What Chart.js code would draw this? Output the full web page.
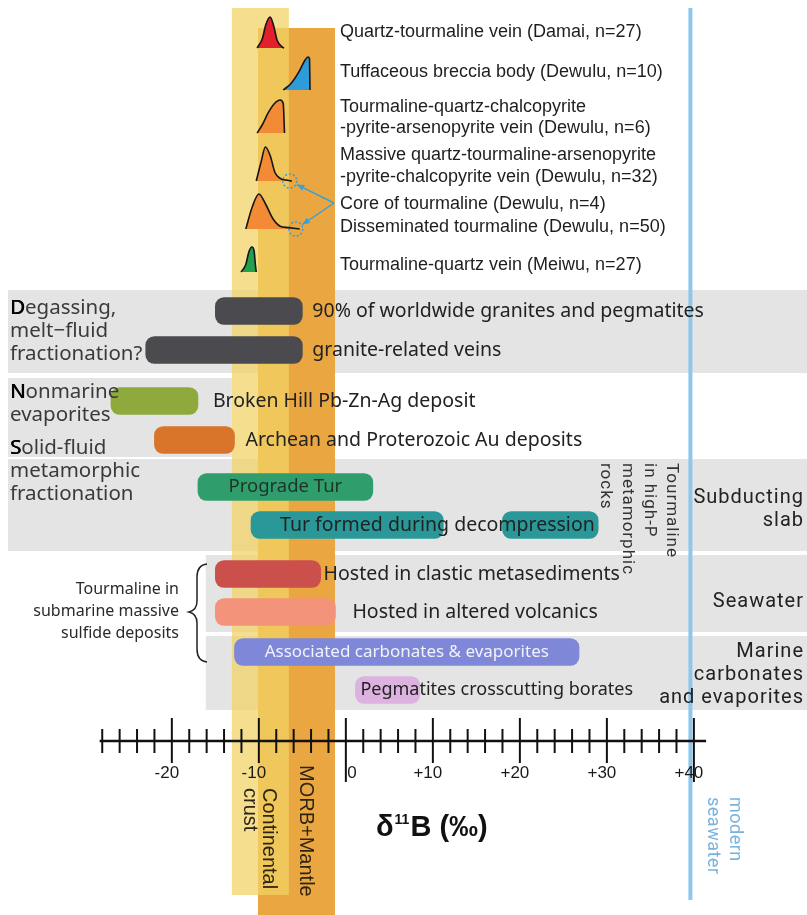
<!DOCTYPE html>
<html>
<head>
<meta charset="utf-8">
<script src="https://cdn.jsdelivr.net/npm/chart.js@4.4.1/dist/chart.umd.min.js"></script>
<style>
  html, body { margin: 0; padding: 0; background: #fff; }
  #wrap { width: 807px; height: 915px; }
</style>
</head>
<body>
<div id="wrap"><canvas id="c" width="807" height="915"></canvas></div>
<script>
// ---- δ11B envelopes of the studied tourmaline (δ11B ‰, relative frequency) ----
const damaiVeinD   = [-10.2, -9.6, -9.2, -8.7, -8.3, -7.9, -7.3, -7.1];
const damaiVeinF   = [0, 0.3, 0.75, 1, 0.72, 0.25, 0.03, 0];
const brecciaD     = [-7.2, -6.3, -5.4, -4.7, -4.35, -4.18, -4.12];
const brecciaF     = [0, 0.2, 0.55, 0.9, 1, 0.95, 0];
const cpyVeinD     = [-10.2, -9.6, -8.95, -8.25, -7.55, -7.2, -7.05];
const cpyVeinF     = [0, 0.25, 0.6, 0.88, 1, 0.9, 0];
const massiveD     = [-10.3, -9.75, -9.25, -8.7, -8.15, -7.55, -6.9, -6.2];
const massiveF     = [0, 0.55, 1, 0.75, 0.25, 0.08, 0.03, 0];
const dissemD      = [-11.5, -10.8, -10.0, -9.2, -8.4, -7.55, -6.65, -5.3];
const dissemF      = [0, 0.6, 1, 0.7, 0.3, 0.08, 0.04, 0];
const meiwuVeinD   = [-12.05, -11.5, -11.15, -10.8, -10.55, -10.4, -10.3];
const meiwuVeinF   = [0, 0.3, 0.8, 1, 0.85, 0.3, 0];
const coreTailD    = -6.45;   // tourmaline cores (n=4) in the massive-vein tail
const dissTailD    = -5.75;   // tourmaline cores in the disseminated tail

const sampleLabels = [
  ['Quartz-tourmaline vein (Damai, n=27)'],
  ['Tuffaceous breccia body (Dewulu, n=10)'],
  ['Tourmaline-quartz-chalcopyrite', '-pyrite-arsenopyrite vein (Dewulu, n=6)'],
  ['Massive quartz-tourmaline-arsenopyrite', '-pyrite-chalcopyrite vein (Dewulu, n=32)'],
  ['Core of tourmaline (Dewulu, n=4)'],
  ['Disseminated tourmaline (Dewulu, n=50)'],
  ['Tourmaline-quartz vein (Meiwu, n=27)']
];

// ---- literature δ11B ranges (‰) ----
const rangeNames = [
  '90% of worldwide granites and pegmatites',
  'granite-related veins',
  'Broken Hill Pb-Zn-Ag deposit',
  'Archean and Proterozoic Au deposits',
  'Prograde Tur',
  'Tur formed during decompression',
  'Hosted in clastic metasediments',
  'Hosted in altered volcanics',
  'Associated carbonates & evaporites',
  'Pegmatites crosscutting borates'
];
const rangeLow  = [-15, -23, -27, -22, -17, -10.9, -15, -15, -12.8, 1.1];
const rangeHigh = [-5, -5, -17, -12.8, 3.1, 11.2, -2.9, -1.2, 26.8, 8.5];
const decompressionHigh = [18, 29];   // second population, same row

// ---- reservoirs ----
const crustRange = [-13.1, -6.55];
const morbRange  = [-10.1, -1.25];
const seawaterD  = 39.6;

// ---- axis ----
const majorTicks = [-20, -10, 0, 10, 20, 30, 40];
const tickLabels = ['-20', '-10', '0', '+10', '+20', '+30', '+40'];
const tickFrom = -28, tickTo = 40, tickStep = 2;

// ---------------- layout ----------------
const X_MIN = -39.75, X_MAX = 53.0;           // visible δ11B window
const H = 915;
const curveBase = [48, 90, 133, 181, 229, 272];
const curvePeak = [31, 33, 33, 34, 35, 25];
const curveColor = ['#E2202B', '#2E9BDA', '#F28A36', '#F28A36', '#F28A36', '#22A04C'];
const labelRows = [[32], [72], [107, 128], [155, 177], [204], [227], [265]];
const rowY = [311, 350, 401, 440, 487, 525, 574, 612, 652, 690];
const barColor = ['#4A4A4F', '#4A4A4F', '#8FAA3C', '#D8752B', '#2F9E6C', '#2A9898',
                  '#CB4F4B', '#F3937A', '#7E87D8', '#DDB2E0'];
const barFont = '19.5px "Noto Sans"';
// label placement: [mode, offset, font, colour]
const barLabelPos = [
  ['after', 10], ['after', 10], ['after', 15], ['after', 11],
  ['center', 0, '18.5px "Noto Sans"', '#1f3329'],
  ['start', 29],
  ['after', 3], ['after', 17],
  ['center', 0, '17px "Noto Sans"', '#F2F2FA'],
  ['start', 5, '18px "Noto Sans"']
];
const greyBands = [
  [-38.83, X_MAX, 290, 373],
  [-38.83, -13.1, 378, 457],
  [-38.83, X_MAX, 459, 551],
  [-16.1, X_MAX, 555, 632],
  [-16.1, X_MAX, 636, 710]
];

const curveSets = [
  [damaiVeinD, damaiVeinF], [brecciaD, brecciaF], [cpyVeinD, cpyVeinF],
  [massiveD, massiveF], [dissemD, dissemF], [meiwuVeinD, meiwuVeinF]
];

const datasets = curveSets.map(([d, f], i) => ({
  type: 'line',
  data: d.map((v, k) => ({ x: v, y: curveBase[i] - f[k] * curvePeak[i] })),
  borderColor: '#161616',
  borderWidth: 1.6,
  backgroundColor: curveColor[i],
  fill: { value: curveBase[i] },
  pointRadius: 0,
  cubicInterpolationMode: 'monotone'
}));

const barData = rangeLow.map((lo, i) => ({ x: [lo, rangeHigh[i]], y: rowY[i] }));
barData.push({ x: decompressionHigh, y: rowY[5] });
datasets.push({
  type: 'bar',
  indexAxis: 'y',
  data: barData,
  backgroundColor: barColor.concat([barColor[5]]),
  barThickness: 27,
  borderRadius: 9,
  borderSkipped: false,
  grouped: false
});

function txt(ctx, s, x, y, o = {}) {
  ctx.save();
  ctx.font = o.font || barFont;
  ctx.fillStyle = o.color || '#222';
  ctx.textAlign = o.align || 'left';
  ctx.textBaseline = 'middle';
  if (o.ls) ctx.letterSpacing = o.ls + 'px';
  if (o.rot) {
    ctx.translate(x, y);
    ctx.rotate(o.rot);
    ctx.fillText(s, 0, 0);
  } else {
    ctx.fillText(s, x, y);
  }
  ctx.restore();
}

// heading whose first letter is set darker
function heading(ctx, s, x, y, font) {
  ctx.save();
  ctx.font = font;
  ctx.textBaseline = 'middle';
  ctx.fillStyle = '#3a3a3a';
  ctx.fillText(s, x, y);
  ctx.fillStyle = '#000';
  ctx.fillText(s[0], x, y);
  ctx.fillText(s[0], x + 0.6, y);
  ctx.restore();
}

const backdrop = {
  id: 'backdrop',
  beforeDatasetsDraw(chart) {
    const { ctx, scales: { x, y } } = chart;
    ctx.save();
    ctx.fillStyle = '#E4E4E4';
    greyBands.forEach(([a, b, t, u]) => {
      const px = x.getPixelForValue(a), qx = x.getPixelForValue(b);
      ctx.fillRect(px, y.getPixelForValue(t), qx - px, y.getPixelForValue(u) - y.getPixelForValue(t));
    });
    // MORB + mantle
    let l = x.getPixelForValue(morbRange[0]), r = x.getPixelForValue(morbRange[1]);
    ctx.fillStyle = '#EAA640';
    ctx.fillRect(l, y.getPixelForValue(28), r - l, y.getPixelForValue(H) - y.getPixelForValue(28));
    // continental crust
    l = x.getPixelForValue(crustRange[0]); r = x.getPixelForValue(crustRange[1]);
    ctx.fillStyle = 'rgba(241,211,101,0.73)';
    ctx.fillRect(l, y.getPixelForValue(8), r - l, y.getPixelForValue(895) - y.getPixelForValue(8));
    // modern seawater
    const sx = x.getPixelForValue(seawaterD);
    ctx.strokeStyle = '#8DC7EE';
    ctx.lineWidth = 4;
    ctx.beginPath();
    ctx.moveTo(sx, y.getPixelForValue(8));
    ctx.lineTo(sx, y.getPixelForValue(900));
    ctx.stroke();
    ctx.restore();
  }
};

const overlay = {
  id: 'overlay',
  afterDatasetsDraw(chart) {
    const { ctx, scales: { x, y } } = chart;
    const X = v => x.getPixelForValue(v);
    const Y = v => y.getPixelForValue(v);

    // sample labels
    sampleLabels.forEach((lines, i) => {
      lines.forEach((s, k) => txt(ctx, s, 340, Y(labelRows[i][k]), { font: '18px "Liberation Sans"', color: '#1e1e1e' }));
    });

    // circled tails and arrows
    const circles = [[X(coreTailD), Y(curveBase[3])], [X(dissTailD), Y(curveBase[4])]];
    ctx.save();
    ctx.strokeStyle = '#3AA0D6';
    ctx.lineWidth = 1.5;
    circles.forEach(([cx, cy]) => {
      ctx.setLineDash([2, 2]);
      ctx.beginPath();
      ctx.arc(cx, cy, 7, 0, Math.PI * 2);
      ctx.stroke();
    });
    ctx.setLineDash([]);
    const start = [334, Y(203)];
    circles.forEach(([cx, cy]) => {
      const dx = start[0] - cx, dy = start[1] - cy, d = Math.hypot(dx, dy);
      const ex = cx + dx / d * 8, ey = cy + dy / d * 8;
      ctx.beginPath();
      ctx.moveTo(start[0], start[1]);
      ctx.lineTo(ex, ey);
      ctx.stroke();
      const a = Math.atan2(ey - start[1], ex - start[0]);
      ctx.fillStyle = '#3AA0D6';
      ctx.beginPath();
      ctx.moveTo(ex, ey);
      ctx.lineTo(ex - 8 * Math.cos(a - 0.4), ey - 8 * Math.sin(a - 0.4));
      ctx.lineTo(ex - 8 * Math.cos(a + 0.4), ey - 8 * Math.sin(a + 0.4));
      ctx.closePath();
      ctx.fill();
    });
    ctx.restore();

    // range-bar labels
    rangeNames.forEach((s, i) => {
      const [mode, off, font, color] = barLabelPos[i];
      const lo = X(rangeLow[i]), hi = X(rangeHigh[i]);
      const o = { font: font || barFont, color: color || '#222' };
      if (mode === 'after') txt(ctx, s, hi + off, Y(rowY[i]), o);
      else if (mode === 'start') txt(ctx, s, lo + off, Y(rowY[i]), o);
      else txt(ctx, s, (lo + hi) / 2, Y(rowY[i]), Object.assign(o, { align: 'center' }));
    });

    // left headings
    const hf = '20.5px "Noto Sans"';
    [['Degassing,', 308], ['melt\u2212fluid', 331], ['fractionation?', 354],
     ['Nonmarine', 392], ['evaporites', 415],
     ['Solid-fluid', 448], ['metamorphic', 471], ['fractionation', 494]].forEach(([s, yy], i) => {
      if ([0, 3, 5].includes(i)) heading(ctx, s, 10, Y(yy), hf);
      else txt(ctx, s, 10, Y(yy), { font: hf, color: '#3a3a3a' });
    });

    // right headings
    const rf = '20px Roboto';
    [['Subducting', 498], ['slab', 521], ['Seawater', 602], ['Marine', 652], ['carbonates', 675], ['and evaporites', 698]]
      .forEach(([s, yy]) => txt(ctx, s, 804, Y(yy), { font: rf, color: '#222', align: 'right', ls: 1 }));

    // vertical notes
    const vf = '17px Roboto';
    [['Tourmaline', 671], ['in high-P', 649], ['metamorphic', 627], ['rocks', 605]]
      .forEach(([s, xx]) => txt(ctx, s, xx, Y(463), { font: vf, color: '#333', rot: Math.PI / 2, ls: 1 }));
    [['modern', 734], ['seawater', 712]]
      .forEach(([s, xx]) => txt(ctx, s, xx, Y(797), { font: '18px Roboto', color: '#78B3DE', rot: Math.PI / 2, ls: 0.5 }));
    [['MORB+Mantle', 306, 765], ['Continental', 269, 788], ['crust', 250, 788]]
      .forEach(([s, xx, yy]) => txt(ctx, s, xx, Y(yy), { font: '20px "Liberation Sans"', color: '#2e2412', rot: Math.PI / 2 }));

    // submarine sulfide note with brace
    [['Tourmaline in', 589], ['submarine massive', 611], ['sulfide deposits', 633]]
      .forEach(([s, yy]) => txt(ctx, s, 179, Y(yy), { font: '16px "Noto Sans"', color: '#2a2a2a', align: 'right' }));
    ctx.save();
    ctx.strokeStyle = '#222';
    ctx.lineWidth = 1.5;
    ctx.beginPath();
    ctx.moveTo(207, Y(564));
    ctx.quadraticCurveTo(197, Y(565), 197, Y(577));
    ctx.lineTo(197, Y(601));
    ctx.quadraticCurveTo(197, Y(610), 189, Y(612));
    ctx.quadraticCurveTo(197, Y(614), 197, Y(623));
    ctx.lineTo(197, Y(649));
    ctx.quadraticCurveTo(197, Y(661), 207, Y(662));
    ctx.stroke();
    ctx.restore();

    // δ11B axis
    const ay = Y(741);
    ctx.save();
    ctx.strokeStyle = '#111';
    ctx.lineWidth = 2.5;
    ctx.beginPath();
    ctx.moveTo(X(tickFrom - 0.3), ay);
    ctx.lineTo(X(tickTo + 1.4), ay);
    ctx.stroke();
    ctx.lineWidth = 2;
    for (let v = tickFrom; v <= tickTo; v += tickStep) {
      const major = majorTicks.includes(v);
      const long = v === 0 || v === 40;
      const t = major ? Y(718) : Y(729);
      const b = long ? Y(782) : major ? Y(763) : Y(753);
      ctx.beginPath();
      ctx.moveTo(X(v), t);
      ctx.lineTo(X(v), b);
      ctx.stroke();
    }
    ctx.restore();
    majorTicks.forEach((v, i) => {
      const dx = v === 0 ? 6 : -5;
      txt(ctx, tickLabels[i], X(v) + dx, Y(773), { font: '17px "Liberation Sans"', color: '#1a1a1a', align: 'center' });
    });

    // axis title δ11B (‰)
    ctx.save();
    ctx.fillStyle = '#111';
    ctx.textBaseline = 'alphabetic';
    let tx = 376;
    const base = Y(836);
    ctx.font = 'bold 29px "Liberation Sans"';
    ctx.fillText('\u03B4', tx, base);
    tx += ctx.measureText('\u03B4').width + 1;
    ctx.font = 'bold 14px "Liberation Sans"';
    ctx.fillText('11', tx, base - 12);
    tx += ctx.measureText('11').width + 1;
    ctx.font = 'bold 29px "Liberation Sans"';
    ctx.fillText('B (\u2030)', tx, base);
    ctx.restore();
  }
};

new Chart(document.getElementById('c'), {
  type: 'line',
  data: { datasets },
  options: {
    responsive: false,
    animation: false,
    devicePixelRatio: 1,
    layout: { padding: 0 },
    plugins: { legend: { display: false }, tooltip: { enabled: false } },
    scales: {
      x: { type: 'linear', min: X_MIN, max: X_MAX, offset: false, display: false },
      y: { type: 'linear', min: 0, max: H, reverse: true, offset: false, display: false }
    }
  },
  plugins: [backdrop, overlay]
});
</script>
</body>
</html>
